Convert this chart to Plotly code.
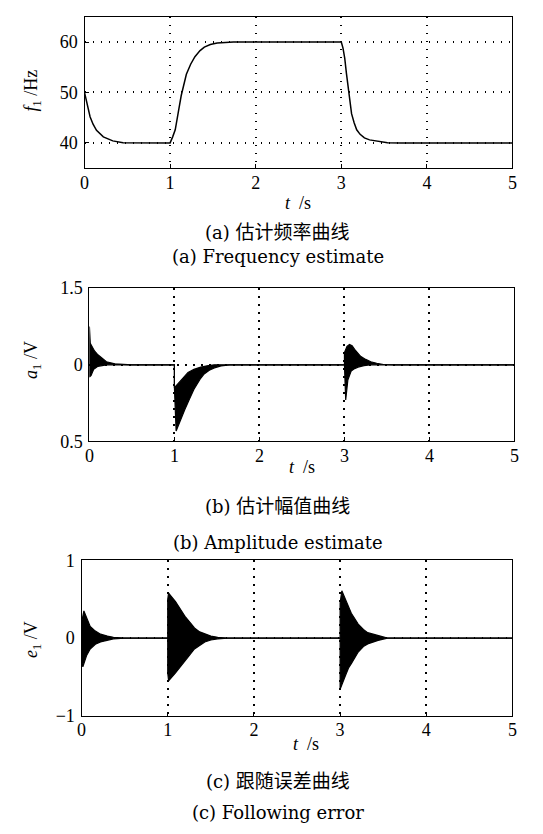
import plotly.graph_objects as go

# ---------- data ----------
# (a) frequency estimate f1 [Hz]
f_t = [0.0, 0.027, 0.065, 0.10, 0.14, 0.22, 0.33, 0.45, 0.6, 1.0,
       1.03, 1.06, 1.10, 1.13, 1.19, 1.24, 1.29, 1.35, 1.40, 1.47, 1.55, 1.65, 1.74, 2.0, 3.0,
       3.02, 3.04, 3.06, 3.08, 3.10, 3.12, 3.15, 3.18, 3.22, 3.27, 3.33, 3.39, 3.46, 3.54, 3.7, 5.0]
f_v = [50.0, 47.7, 45.2, 43.7, 42.5, 41.2, 40.4, 40.05, 40.0, 40.0,
       41.2, 42.6, 46.5, 49.4, 53.6, 55.6, 57.1, 58.3, 59.0, 59.5, 59.8, 59.95, 60.0, 60.0, 60.0,
       58.8, 56.8, 53.8, 51.0, 48.2, 45.8, 44.0, 42.6, 41.7, 41.0, 40.6, 40.4, 40.2, 40.05, 40.0, 40.0]

# (b) amplitude estimate a1 [V] : upper / lower envelope of the fast oscillation
a_up_t = [0.0, 0.0, 0.01, 0.03, 0.06, 0.1, 0.15, 0.2, 0.3, 0.4, 0.5, 1.0,
          1.0, 1.04, 1.1, 1.16, 1.23, 1.31, 1.4, 1.47, 1.6, 3.0,
          3.0, 3.03, 3.06, 3.09, 3.12, 3.16, 3.19, 3.25, 3.31, 3.38, 3.46, 3.6, 5.0]
a_up_v = [1.0, 1.25, 1.14, 1.12, 1.09, 1.065, 1.04, 1.02, 1.006, 1.002, 1.0, 1.0,
          0.85, 0.875, 0.915, 0.95, 0.97, 0.985, 0.995, 1.0, 1.0, 1.0,
          1.08, 1.12, 1.133, 1.125, 1.10, 1.075, 1.055, 1.035, 1.02, 1.01, 1.002, 1.0, 1.0]
a_lo_t = [0.0, 0.0, 0.02, 0.05, 0.1, 0.15, 0.2, 1.0,
          1.0, 1.02, 1.07, 1.12, 1.18, 1.23, 1.3, 1.35, 1.41, 1.47, 1.55, 1.65, 3.0,
          3.0, 3.015, 3.04, 3.08, 3.12, 3.16, 3.23, 3.3, 5.0]
a_lo_v = [1.0, 0.92, 0.93, 0.97, 0.99, 0.997, 1.0, 1.0,
          0.85, 0.568, 0.64, 0.705, 0.78, 0.84, 0.905, 0.94, 0.965, 0.98, 0.993, 1.0, 1.0,
          1.0, 0.77, 0.90, 0.96, 0.975, 0.985, 0.995, 1.0, 1.0]

# (c) following error e1 [V] : upper / lower envelope
e_up_t = [0.0, 0.0, 0.027, 0.06, 0.1, 0.16, 0.22, 0.3, 0.37, 0.5, 1.0,
          1.0, 1.01, 1.09, 1.15, 1.2, 1.26, 1.31, 1.37, 1.43, 1.5, 1.58, 1.69, 3.0,
          3.0, 3.02, 3.06, 3.1, 3.13, 3.21, 3.27, 3.32, 3.44, 3.55, 5.0]
e_up_v = [0.0, 0.2, 0.35, 0.25, 0.15, 0.09, 0.05, 0.025, 0.01, 0.0, 0.0,
          0.5, 0.58, 0.47, 0.37, 0.28, 0.2, 0.13, 0.08, 0.05, 0.025, 0.01, 0.0, 0.0,
          0.45, 0.61, 0.5, 0.39, 0.32, 0.18, 0.11, 0.07, 0.03, 0.0, 0.0]
e_lo_t = [0.0, 0.0, 0.015, 0.06, 0.1, 0.16, 0.22, 0.3, 0.37, 0.5, 1.0,
          1.0, 1.01, 1.09, 1.15, 1.2, 1.26, 1.31, 1.37, 1.43, 1.5, 1.58, 1.69, 3.0,
          3.0, 3.0, 3.06, 3.1, 3.13, 3.21, 3.27, 3.32, 3.44, 3.55, 5.0]
e_lo_v = [0.0, -0.3, -0.37, -0.22, -0.14, -0.08, -0.05, -0.025, -0.01, 0.0, 0.0,
          -0.45, -0.55, -0.45, -0.37, -0.3, -0.21, -0.14, -0.09, -0.05, -0.025, -0.01, 0.0, 0.0,
          -0.5, -0.66, -0.49, -0.38, -0.33, -0.18, -0.11, -0.075, -0.03, 0.0, 0.0]

x_ticks = [0, 1, 2, 3, 4, 5]
f_ticks = [40, 50, 60]
a_ticks = [0.5, 1.0, 1.5]
a_ticktext = ["0.5", "0", "1.5"]
e_ticks = [-1, 0, 1]
e_ticktext = ["\u22121", "0", "1"]

cap_labels = ["(a)", "(a)", "(b)", "(b)", "(c)", "(c)"]
cap_texts = ["估计频率曲线", "Frequency estimate",
             "估计幅值曲线", "Amplitude estimate",
             "跟随误差曲线", "Following error"]
ylabels = ["<i>f</i><sub>1</sub> /Hz", "<i>a</i><sub>1</sub> /V", "<i>e</i><sub>1</sub> /V"]

# ---------- figure ----------
W, H = 543, 834
SERIF = "Liberation Serif"
CAPSERIF = "DejaVu Serif"
CJK = "Noto Sans CJK SC"

fig = go.Figure()
BLK = "black"

fig.add_trace(go.Scatter(x=f_t, y=f_v, mode="lines", line=dict(color=BLK, width=1.5),
                         xaxis="x", yaxis="y", showlegend=False, hoverinfo="skip"))

fig.add_trace(go.Scatter(x=a_lo_t, y=a_lo_v, mode="lines", line=dict(color=BLK, width=1.2),
                         xaxis="x2", yaxis="y2", showlegend=False, hoverinfo="skip"))
fig.add_trace(go.Scatter(x=a_up_t, y=a_up_v, mode="lines", line=dict(color=BLK, width=1.2),
                         fill="tonexty", fillcolor=BLK,
                         xaxis="x2", yaxis="y2", showlegend=False, hoverinfo="skip"))

fig.add_trace(go.Scatter(x=e_lo_t, y=e_lo_v, mode="lines", line=dict(color=BLK, width=1.2),
                         xaxis="x3", yaxis="y3", showlegend=False, hoverinfo="skip"))
fig.add_trace(go.Scatter(x=e_up_t, y=e_up_v, mode="lines", line=dict(color=BLK, width=1.2),
                         fill="tonexty", fillcolor=BLK,
                         xaxis="x3", yaxis="y3", showlegend=False, hoverinfo="skip"))


def px_dom(a, b, total):
    return [a / total, b / total]


def ydom(top, bottom):
    return [1 - bottom / H, 1 - top / H]


boxes = [  # left, right, top, bottom  (pixels)
    (81, 517, 7, 162),
    (86, 519, 285, 442),
    (78, 517, 564, 723),
]

axcommon = dict(showline=True, linecolor=BLK, linewidth=1.2, mirror=True,
                ticks="inside", ticklen=4, tickcolor=BLK, tickwidth=1,
                zeroline=False, showgrid=True, gridcolor=BLK, gridwidth=1.5,
                griddash="1.5px,6.5px",
                tickfont=dict(family=SERIF, size=18, color=BLK), fixedrange=True)

yranges = [[35, 65], [0.5, 1.5], [-1, 1]]
ytv = [f_ticks, a_ticks, e_ticks]
ytt = [[str(v) for v in f_ticks], a_ticktext, e_ticktext]

layout = dict(width=W, height=H, margin=dict(l=0, r=0, t=0, b=0),
              paper_bgcolor="white", plot_bgcolor="white")
for i, (l, r, t, b) in enumerate(boxes):
    sx = "" if i == 0 else str(i + 1)
    layout["xaxis" + sx] = dict(axcommon, domain=px_dom(l, r, W), range=[0, 5],
                                tickvals=x_ticks, ticktext=[str(v) for v in x_ticks],
                                anchor="y" + sx, ticklabelstandoff=-2)
    layout["yaxis" + sx] = dict(axcommon, domain=ydom(t, b), range=yranges[i],
                                tickvals=ytv[i], ticktext=ytt[i], anchor="x" + sx,
                                ticklabelstandoff=2)
fig.update_layout(**layout)

ann = []
# x-axis titles
for yc, xc in [(198, 298), (468, 303), (752, 307)]:
    ann.append(dict(text="<i>t</i>  /s", x=xc / W, y=1 - yc / H, xref="paper", yref="paper",
                    showarrow=False, font=dict(family=SERIF, size=18, color=BLK),
                    xanchor="center", yanchor="middle"))
# y-axis titles
for txt, (xc, yc) in zip(ylabels, [(28, 82), (28, 358), (28, 645)]):
    ann.append(dict(text=txt, x=xc / W, y=1 - yc / H, xref="paper", yref="paper",
                    showarrow=False, textangle=-90, font=dict(family=SERIF, size=18, color=BLK),
                    xanchor="center", yanchor="middle"))
# captions
for i, (lab, txt, yc) in enumerate(zip(cap_labels, cap_texts, [226, 253, 507, 546, 788, 822])):
    if i % 2 == 0:
        body = f"{lab} <span style='font-family:\"{CJK}\";font-size:19px'>{txt}</span>"
    else:
        body = f"{lab} {txt}"
    ann.append(dict(text=body, x=278 / W, y=1 - yc / H, xref="paper", yref="paper",
                    showarrow=False, font=dict(family=CAPSERIF, size=18, color=BLK),
                    xanchor="center", yanchor="middle"))
fig.update_layout(annotations=ann)

fig.write_html("out.html")
